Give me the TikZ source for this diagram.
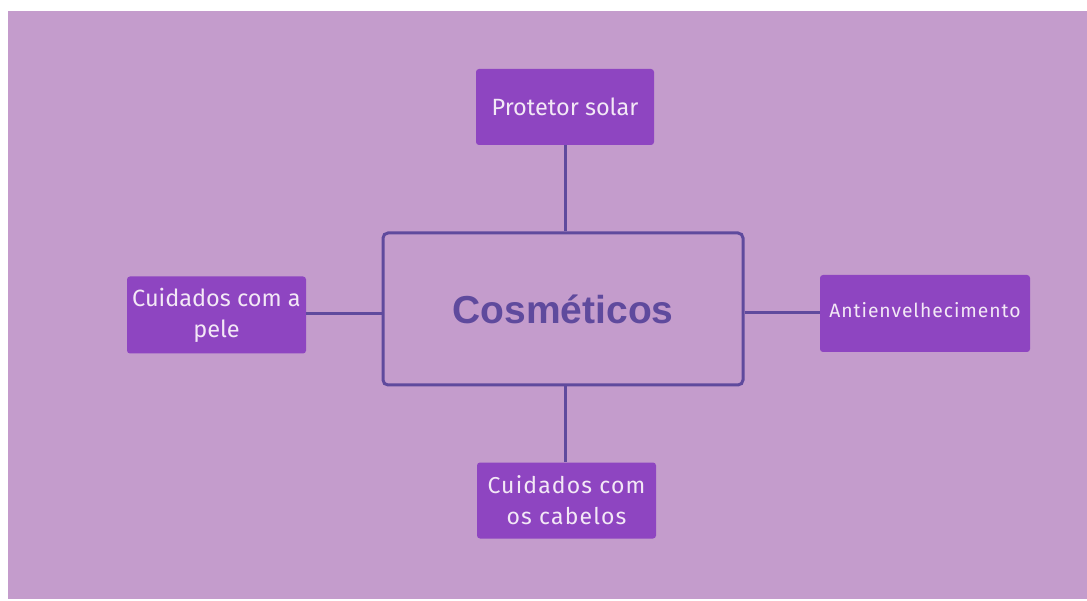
\documentclass[tikz,border=0pt]{standalone}
\usepackage{fontspec}
\setmainfont{Liberation Sans}
\newfontfamily\boxfont{Fira Sans}
\newfontfamily\spacedfont{Fira Sans}[LetterSpace=5]
\newfontfamily\titlefont{Liberation Sans}
\definecolor{bgpurple}{HTML}{C49CCC}
\definecolor{boxpurple}{HTML}{8E45C1}
\definecolor{linepurple}{HTML}{5F4A9D}
\definecolor{textlight}{HTML}{F3E8F6}
\tikzset{
  leaf/.style={fill=boxpurple, draw=none, rounded corners=3pt, text=textlight,
    font=\boxfont\fontsize{23.5}{31}\selectfont, align=center, inner sep=0pt},
  hub/.style={draw=linepurple, line width=3pt, rounded corners=5pt, text=linepurple,
    font=\titlefont\bfseries\fontsize{39}{42}\selectfont, inner sep=0pt},
  link/.style={draw=linepurple, line width=3pt}
}
\begin{document}
\begin{tikzpicture}[x=1pt,y=-1pt]
\useasboundingbox (0,0) rectangle (1087,601);
\fill[white] (0,0) rectangle (1087,601);
\fill[bgpurple] (8,11) rectangle (1087,599);
\node[hub, minimum width=360pt, minimum height=152pt] (c) at (563,309) {Cosméticos};
\node[leaf, minimum width=178pt, minimum height=76pt] (top) at (565,107) {Protetor solar};
\node[leaf, minimum width=179pt, minimum height=77pt] (left) at (216.5,315) {Cuidados com a\\pele};
\node[leaf, minimum width=210pt, minimum height=77pt] (right) at (925,313.5) {};
\node[text=textlight, font=\spacedfont\fontsize{19.3}{28}\selectfont, inner sep=0pt] (rlabel) at (925,310.5) {Antienvelhecimento};
\node[leaf, minimum width=179pt, minimum height=76pt, font=\spacedfont\fontsize{23}{31}\selectfont] (bottom) at (566.5,500.5) {Cuidados com\\os cabelos};
\draw[link] (top.south) -- (top.south |- c.north);
\draw[link] ([xshift=2pt]c.south) -- ([xshift=2pt]c.south |- bottom.north);
\draw[link] (left.east |- 0,314) -- (c.west |- 0,314);
\draw[link] (c.east |- 0,313) -- (right.west |- 0,313);
\end{tikzpicture}
\end{document}
